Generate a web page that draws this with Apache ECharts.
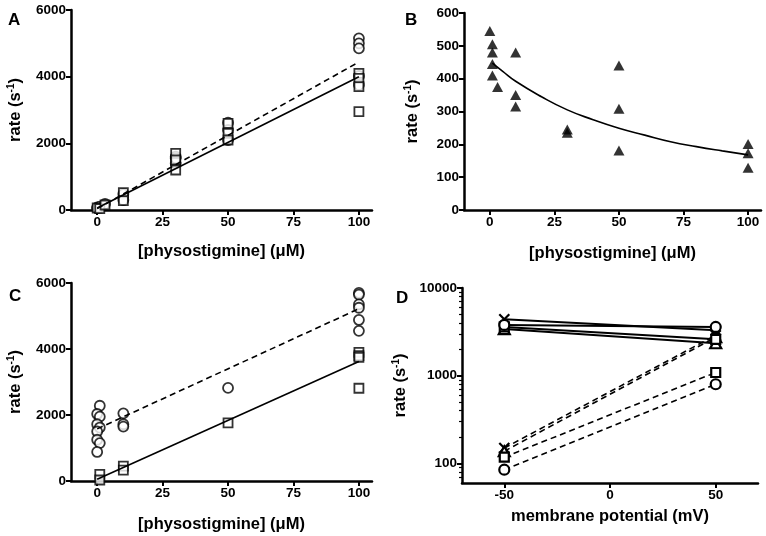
<!DOCTYPE html>
<html><head><meta charset="utf-8">
<script src="https://cdn.jsdelivr.net/npm/echarts@6/dist/echarts.min.js"></script>
<style>html,body{margin:0;padding:0;background:#fff}#c{width:766px;height:536px}</style>
</head><body><div id="c"></div>
<script>
// Panel A
const aCircX = [0,0,1,3,10,10,30,30,30,50,50,50,100,100,100,100,100];
const aCircY = [50,80,100,180,480,300,1600,1400,1550,2620,2400,2100,5150,5000,4850,4020,3750];
const aSqX = [0,1,3,10,10,30,30,30,50,50,50,100,100,100,100];
const aSqY = [60,40,150,520,280,1700,1500,1200,2600,2300,2100,4100,3950,3700,2950];
const aFitX = [0,100];
const aSolidY = [60,4000];
const aDashY = [40,4440];
// Panel B
const bX = [0,1,1,1,1,3,10,10,10,30,30,50,50,50,100,100,100];
const bY = [545,505,480,445,410,375,480,350,315,245,235,440,308,181,201,173,129];
const bCurveX = [1,5,10,20,30,40,50,60,70,80,90,100];
const bCurveY = [447,422,392,345,305,275,249,228,208,193,180,168];
// Panel C
const cCircX = [1,0,1,0,1,0,0,1,0,10,10,10,50,100,100,100,100,100,100];
const cCircY = [2280,2030,1950,1720,1620,1500,1250,1150,880,2050,1720,1650,2820,5700,5650,5350,5250,4880,4550];
const cSqX = [1,1,10,10,50,100,100,100,100];
const cSqY = [200,30,450,330,1760,3900,3800,3750,2810];
const cFitX = [0,100];
const cSolidY = [50,3620];
const cDashY = [1580,5220];
// Panel D
const dX = [-50,50];
const dXSolidY = [4400,3300];
const dXDashY = [150,2900];
const dTriSolidY = [3400,2350];
const dTriDashY = [138,2750];
const dSqSolidY = [3600,2600];
const dSqDashY = [118,1090];
const dCircSolidY = [3800,3600];
const dCircDashY = [85,800];
const physoTicks = [0,25,50,75,100];
const potTicks = [-50,0,50];
const logTicks = [100,1000,10000];
const logMinorTicks = [70,80,90,200,300,400,500,600,700,800,900,2000,3000,4000,5000,6000,7000,8000,9000];

const pairs = (xs, ys) => xs.map((x,i)=>[x, ys[i]]);
const F = 'Liberation Sans, Arial, sans-serif';
const axLine = {onZero:false, lineStyle:{color:'#000', width:2.5}};
const tick = {length:5, lineStyle:{color:'#000', width:2}};
const lbl = {color:'#000', fontWeight:'bold', fontSize:13.5, fontFamily:F, margin:5, formatter:v=>String(v)};
const nameStyle = {color:'#000', fontWeight:'bold', fontSize:16.5, fontFamily:F,
  rich:{sup:{fontSize:10, fontWeight:'bold', fontFamily:F, color:'#000', padding:[0,0,9,0]}}};
const yName = 'rate (s{sup|-1})';
const phName = '[physostigmine] (\u03bcM)';

function xPhys(gi, gap){
  return {type:'value', gridIndex:gi, min:-10, max:105, axisLine:axLine,
    axisTick:Object.assign({customValues:physoTicks}, tick),
    axisLabel:Object.assign({customValues:physoTicks}, lbl),
    splitLine:{show:false}, name:phName, nameLocation:'middle', nameGap:gap, nameTextStyle:nameStyle};
}
function yLin(gi, max, interval, gap){
  return {type:'value', gridIndex:gi, min:0, max:max, interval:interval, axisLine:Object.assign({show:true},axLine),
    axisTick:tick, axisLabel:lbl, splitLine:{show:false},
    name:yName, nameLocation:'middle', nameGap:gap, nameTextStyle:nameStyle};
}
const open = (sym, size) => ({type:'scatter', symbol:sym, symbolSize:size,
  itemStyle:{color:'#fff', borderColor:'#000', borderWidth:1.8}});
const xSym = 'path://M0,0L10,10M10,0L0,10';

const series = [
  Object.assign(open('circle',10), {xAxisIndex:0, yAxisIndex:0, data:pairs(aCircX,aCircY), z:3}),
  Object.assign(open('rect',9), {xAxisIndex:0, yAxisIndex:0, data:pairs(aSqX,aSqY), z:3}),
  {type:'line', xAxisIndex:0, yAxisIndex:0, data:pairs(aFitX,aSolidY), symbol:'none', lineStyle:{color:'#000', width:1.6}, z:4},
  {type:'line', xAxisIndex:0, yAxisIndex:0, data:pairs(aFitX,aDashY), symbol:'none', lineStyle:{color:'#000', width:1.6, type:[6,4]}, z:4},

  {type:'scatter', xAxisIndex:1, yAxisIndex:1, data:pairs(bX,bY), symbol:'triangle', symbolSize:[11,10], itemStyle:{color:'#000'}},
  {type:'line', xAxisIndex:1, yAxisIndex:1, data:pairs(bCurveX,bCurveY), smooth:true, symbol:'none', lineStyle:{color:'#000', width:1.6}},

  Object.assign(open('circle',10), {xAxisIndex:2, yAxisIndex:2, data:pairs(cCircX,cCircY), z:3}),
  Object.assign(open('rect',9), {xAxisIndex:2, yAxisIndex:2, data:pairs(cSqX,cSqY), z:3}),
  {type:'line', xAxisIndex:2, yAxisIndex:2, data:pairs(cFitX,cSolidY), symbol:'none', lineStyle:{color:'#000', width:1.6}, z:4},
  {type:'line', xAxisIndex:2, yAxisIndex:2, data:pairs(cFitX,cDashY), symbol:'none', lineStyle:{color:'#000', width:1.6, type:[6,4]}, z:4},
];
const dSets = [
  [xSym,[10,10],dXSolidY,dXDashY],
  ['triangle',[11,10],dTriSolidY,dTriDashY],
  ['rect',[9,9],dSqSolidY,dSqDashY],
  ['circle',[10,10],dCircSolidY,dCircDashY]
];
dSets.forEach(s=>{
  [[s[2],'solid'],[s[3],[6,4]]].forEach(p=>{
    series.push({type:'line', xAxisIndex:3, yAxisIndex:3, data:pairs(dX,p[0]), symbol:s[0], symbolSize:s[1],
      showSymbol:true, itemStyle:{color:'#fff', borderColor:'#000', borderWidth:2.2},
      lineStyle:{color:'#000', width:p[1]==='solid'?2:1.6, type:p[1]}});
  });
});

const chart = echarts.init(document.getElementById('c'), null, {renderer:'canvas'});
chart.setOption({
  animation:false,
  backgroundColor:'#fff',
  grid:[
    {left:71, top:10, width:301, height:200},
    {left:464, top:13, width:297, height:197},
    {left:71, top:283, width:301, height:198},
    {left:462, top:288, width:296, height:195}
  ],
  xAxis:[
    xPhys(0,33), xPhys(1,35), xPhys(2,35),
    {type:'value', gridIndex:3, min:-70, max:70, axisLine:axLine,
      axisTick:Object.assign({customValues:potTicks}, tick),
      axisLabel:Object.assign({customValues:potTicks}, lbl),
      splitLine:{show:false}, name:'membrane potential (mV)', nameLocation:'middle', nameGap:25, nameTextStyle:nameStyle}
  ],
  yAxis:[
    yLin(0,6000,2000,46), yLin(1,600,100,42), yLin(2,6000,2000,46),
    {type:'log', gridIndex:3, min:60, max:10000, position:'left', axisLine:Object.assign({show:true},axLine),
      axisTick:Object.assign({customValues:logTicks}, tick),
      axisLabel:Object.assign({customValues:logTicks}, lbl),
      splitLine:{show:false},
      name:yName, nameLocation:'middle', nameGap:52, nameTextStyle:nameStyle},
    {type:'log', gridIndex:3, min:60, max:10000, position:'left', axisLine:{show:false, onZero:false},
      axisTick:{show:true, customValues:logMinorTicks, length:3, lineStyle:{color:'#000', width:1.2}},
      axisLabel:{show:false}, splitLine:{show:false}}
  ],
  graphic:[
    {type:'text', left:8, top:12, style:{text:'A', font:'bold 17px '+F, fill:'#000'}},
    {type:'text', left:405, top:12, style:{text:'B', font:'bold 17px '+F, fill:'#000'}},
    {type:'text', left:9, top:288, style:{text:'C', font:'bold 17px '+F, fill:'#000'}},
    {type:'text', left:396, top:290, style:{text:'D', font:'bold 17px '+F, fill:'#000'}}
  ],
  series:series
});
</script></body></html>
